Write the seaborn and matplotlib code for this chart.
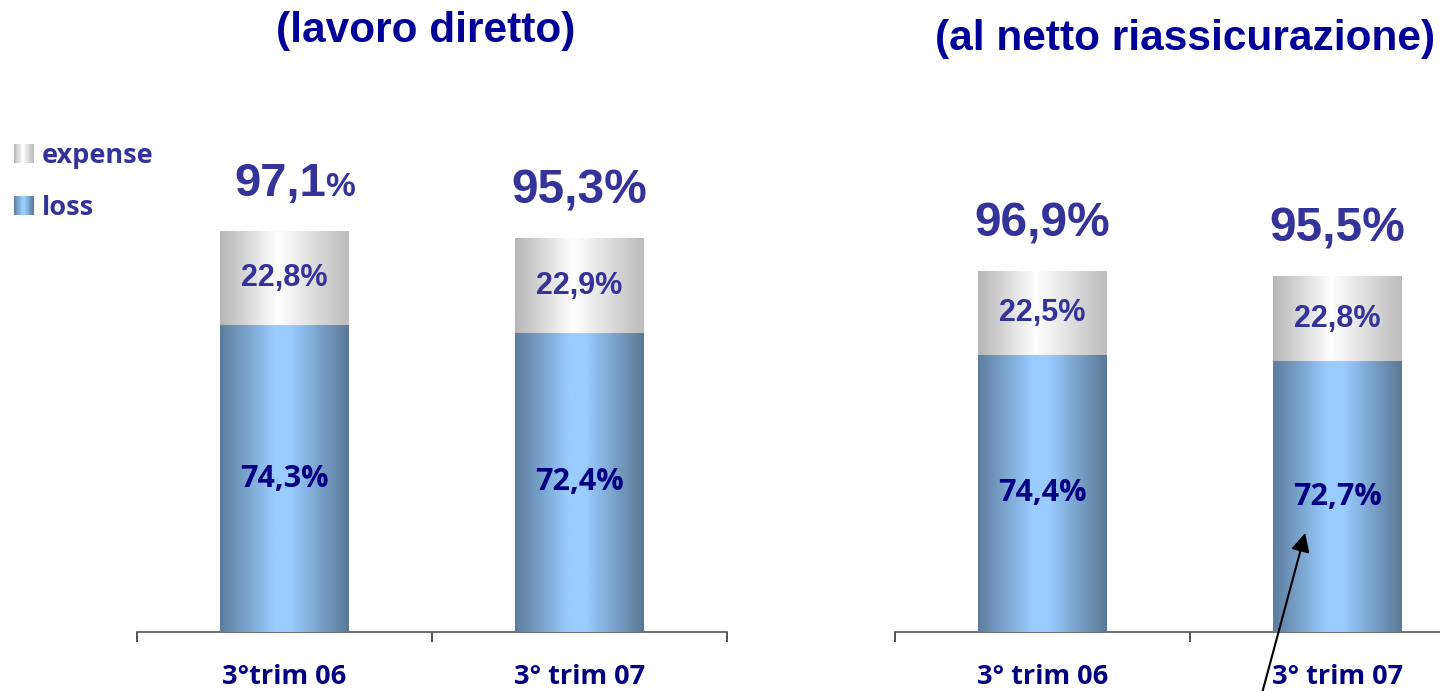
import matplotlib
matplotlib.use("Agg")
import matplotlib.pyplot as plt
import seaborn as sns
import numpy as np
import pandas as pd
from matplotlib.colors import LinearSegmentedColormap
from matplotlib.patches import Rectangle
from matplotlib.legend_handler import HandlerBase

# data (combined ratio split into loss / expense)
periods_left = ["3°trim 06", "3° trim 07"]
periods_right = ["3° trim 06", "3° trim 07"]
loss_left = [74.3, 72.4]
expense_left = [22.8, 22.9]
loss_right = [74.4, 72.7]
expense_right = [22.5, 22.8]
small_pct_left = [True, False]
small_pct_right = [False, False]
titles = ["(lavoro diretto)", "(al netto riassicurazione)"]
legend_labels = ["expense", "loss"]

TITLE_COL = "#000099"
LABEL_COL = "#333399"
NAVY = "#000080"
SANS = "Open Sans"

blue_cmap = LinearSegmentedColormap.from_list(
    "bluebar", [(0, "#5d7d9d"), (0.42, "#99ccff"), (0.55, "#99ccff"), (1, "#5a7896")])
gray_cmap = LinearSegmentedColormap.from_list(
    "graybar", [(0, "#b6b6b6"), (0.45, "#ffffff"), (1, "#bcbcbc")])


def fmt(v):
    return f"{v:.1f}".replace(".", ",") + "%"


def fill_gradient(ax, patch, cmap, z):
    x0, y0 = patch.get_x(), patch.get_y()
    w, h = patch.get_width(), patch.get_height()
    grad = np.linspace(0, 1, 256).reshape(1, -1)
    im = ax.imshow(grad, cmap=cmap, extent=(x0, x0 + w, y0, y0 + h),
                   aspect="auto", zorder=z, interpolation="bilinear")
    im.set_clip_path(patch)


class GradientHandler(HandlerBase):
    def __init__(self, cmap):
        super().__init__()
        self.cmap = cmap

    def create_artists(self, legend, orig_handle, xdescent, ydescent,
                       width, height, fontsize, trans):
        n = 24
        arts = []
        for k in range(n):
            r = Rectangle((-xdescent + width * k / n, -ydescent), width / n * 1.1, height,
                          facecolor=self.cmap((k + 0.5) / n), edgecolor="none",
                          transform=trans)
            arts.append(r)
        return arts


def draw_panel(ax, periods, loss, expense, small_pct, ytop):
    df = pd.DataFrame({"period": periods, "loss": loss, "expense": expense})
    df["total"] = df["loss"] + df["expense"]

    sns.barplot(data=df, x="period", y="total", color="#dddddd", width=0.437,
                ax=ax, saturation=1)
    sns.barplot(data=df, x="period", y="loss", color="#99ccff", width=0.437,
                ax=ax, saturation=1)
    n = len(df)
    for p in ax.patches[:n]:
        fill_gradient(ax, p, gray_cmap, 2)
    for p in ax.patches[n:2 * n]:
        fill_gradient(ax, p, blue_cmap, 3)

    for i, row in df.iterrows():
        ax.text(i, row["loss"] / 2, fmt(row["loss"]), ha="center", va="center",
                color=NAVY, fontsize=22, fontweight="bold", family=SANS, zorder=5)
        ax.text(i, row["loss"] + row["expense"] / 2, fmt(row["expense"]), ha="center",
                va="center", color=LABEL_COL, fontsize=22, fontweight="bold",
                family="Liberation Sans", zorder=5)
        tot = fmt(row["total"])
        if small_pct[i]:
            t = ax.annotate(tot[:-1], xy=(i, row["total"]), xytext=(-3, 25),
                            textcoords="offset points", ha="center", va="baseline",
                            color=LABEL_COL, fontsize=34, fontweight="bold",
                            family="Liberation Sans")
            ax.annotate("%", xy=(1, 0), xycoords=t, xytext=(-1, 2.5),
                        textcoords="offset points", ha="left", va="bottom",
                        color=LABEL_COL, fontsize=24, fontweight="bold",
                        family="Liberation Sans")
        else:
            ax.annotate(tot, xy=(i, row["total"]), xytext=(0, 25),
                        textcoords="offset points", ha="center", va="baseline",
                        color=LABEL_COL, fontsize=34.5, fontweight="bold",
                        family="Liberation Sans")

    ax.set_xlim(-0.5, 1.5)
    ax.set_ylim(0, ytop)
    ax.set_xlabel("")
    ax.set_ylabel("")
    ax.set_yticks([])
    for s in ["top", "left", "right"]:
        ax.spines[s].set_visible(False)
    ax.spines["bottom"].set_color("#555555")
    ax.spines["bottom"].set_linewidth(1.2)
    ax.set_xticks([-0.5, 0.5, 1.5], minor=True)
    ax.tick_params(axis="x", which="minor", bottom=True, length=7.5, width=1.2,
                   color="#333333", direction="out")
    ax.tick_params(axis="x", which="major", bottom=True, length=0, pad=23)
    for lab in ax.get_xticklabels():
        lab.set_fontfamily(SANS)
        lab.set_fontweight("bold")
        lab.set_fontsize(19.5)
        lab.set_color(NAVY)


sns.set_theme(style="white")
fig = plt.figure(figsize=(14.4, 6.91), dpi=100)

bottom = 59 / 691
height = 532 / 691
ax1 = fig.add_axes([137 / 1440, bottom, 590 / 1440, height])
ax2 = fig.add_axes([895 / 1440, bottom, 590 / 1440, height])

draw_panel(ax1, periods_left, loss_left, expense_left, small_pct_left, 532 / 4.13)
draw_panel(ax2, periods_right, loss_right, expense_right, small_pct_right, 532 / 3.725)

fig.text(426 / 1440, 1 - 31 / 691, titles[0], ha="center", va="center", color=TITLE_COL,
         fontsize=30.5, fontweight="bold", family="Liberation Sans")
fig.text(1185 / 1440, 1 - 39 / 691, titles[1], ha="center", va="center", color=TITLE_COL,
         fontsize=30.5, fontweight="bold", family="Liberation Sans")

# pointer arrow on the right panel
ax2.annotate("", xy=(0.893, 27.3), xytext=(0.744, -16.5),
             arrowprops=dict(arrowstyle="-|>", color="black", lw=1.5, mutation_scale=28),
             annotation_clip=False, zorder=6)

handles = [Rectangle((0, 0), 1, 1), Rectangle((0, 0), 1, 1)]
fig.legend(handles, legend_labels, loc="upper left",
           bbox_to_anchor=(14 / 1440, 1 - 143 / 691), frameon=False,
           handler_map={handles[0]: GradientHandler(gray_cmap),
                        handles[1]: GradientHandler(blue_cmap)},
           prop={"family": SANS, "weight": "bold", "size": 19.5},
           labelcolor=LABEL_COL, handlelength=0.72, handleheight=0.72,
           handletextpad=0.3, labelspacing=0.95, borderpad=0, borderaxespad=0)

fig.savefig("out.png", dpi=100)
